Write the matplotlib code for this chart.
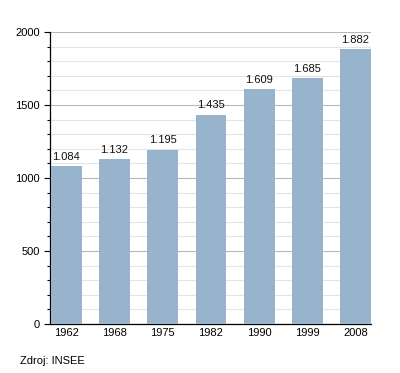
import matplotlib.pyplot as plt
import numpy as np
from matplotlib.ticker import MultipleLocator

years = ['1962', '1968', '1975', '1982', '1990', '1999', '2008']
population = [1084, 1132, 1195, 1435, 1609, 1685, 1882]
value_labels = ['1.084', '1.132', '1.195', '1.435', '1.609', '1.685', '1.882']

plt.rcParams['font.family'] = ['Liberation Sans', 'DejaVu Sans']

fig = plt.figure(figsize=(4, 3.73), dpi=100)
ax = fig.add_axes([0.125, 0.1314, 0.8025, 0.7826])

x = np.arange(len(years))
ax.bar(x, population, width=0.64, color='#98b4cc', zorder=3)

# value labels above the bars
for xi, v, lab in zip(x, population, value_labels):
    ax.text(xi, v + 28, lab, ha='center', va='bottom', fontsize=8, color='#111111')

ax.set_xlim(-0.34, len(years) - 1 + 0.32)
ax.set_ylim(0, 2000)
ax.set_xticks(x)
ax.set_xticklabels(years, fontsize=8)
ax.yaxis.set_major_locator(MultipleLocator(500))
ax.yaxis.set_minor_locator(MultipleLocator(100))
ax.tick_params(axis='y', labelsize=8, length=4, width=0.8)
ax.tick_params(axis='y', which='minor', length=2.5, width=0.8)
ax.tick_params(axis='x', length=0, pad=3)

ax.grid(axis='y', which='major', color='#b8b8b8', linewidth=0.8, zorder=0)
ax.grid(axis='y', which='minor', color='#e4e4e4', linewidth=0.8, zorder=0)

ax.spines['top'].set_visible(False)
ax.spines['right'].set_visible(False)
ax.spines['left'].set_linewidth(0.9)
ax.spines['bottom'].set_linewidth(0.9)

fig.text(0.05, 0.018, 'Zdroj: INSEE', fontsize=8, ha='left', va='bottom')

fig.savefig('out.png', dpi=100)
